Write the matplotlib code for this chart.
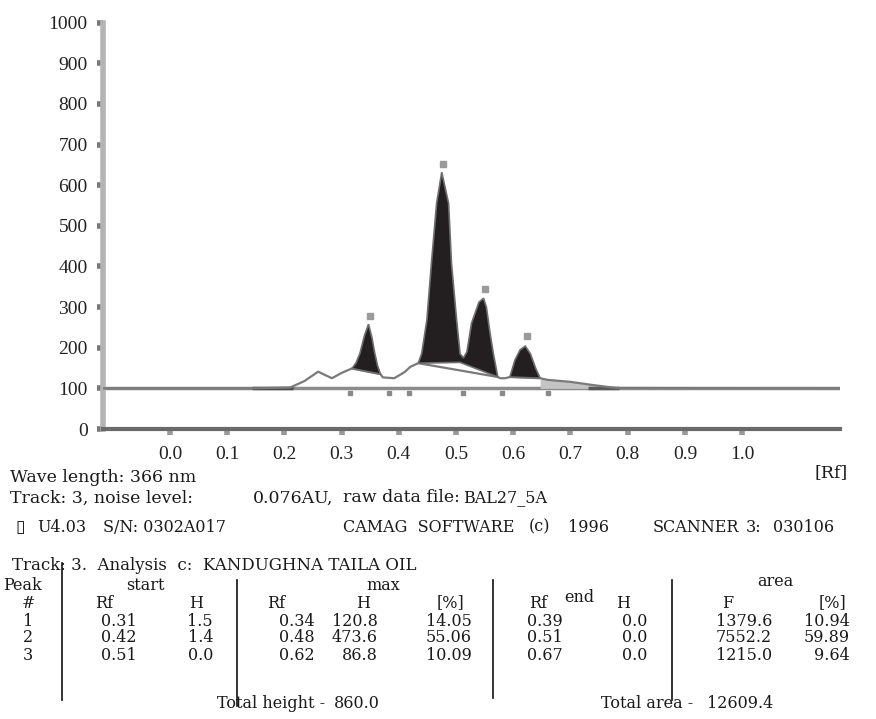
#!/usr/bin/env python
# -*- coding:utf-8 -*-
"""
TLC densitogram (CAMAG scanner printout), track 3, Kandughna taila oil.
"""

import numpy as np
from matplotlib import pyplot as plt

W, H = 876, 719

# --- scan trace (Rf, AU) ---
prof_rf = [-0.117, 0.143, 0.21, 0.235, 0.259, 0.283, 0.300, 0.318,
           0.368, 0.372, 0.392, 0.410, 0.420, 0.434,
           0.573, 0.577, 0.586, 0.594,
           0.647, 0.660, 0.700, 0.740, 0.780, 1.171]
prof_au = [100, 100, 102, 118, 141, 125, 138, 149,
           135, 127, 125, 140, 153, 162,
           128, 125, 125, 128,
           125, 121, 116, 108, 101, 100]

# filled peaks: outline then peak baseline back to the start
peak1_rf = [0.318, 0.325, 0.332, 0.340, 0.347, 0.353, 0.358, 0.363, 0.368]
peak1_au = [149, 162, 186, 230, 258, 225, 186, 155, 135]

peak23_rf = [0.434, 0.440, 0.449, 0.457, 0.466, 0.475, 0.487, 0.492, 0.501,
             0.507, 0.513, 0.519, 0.527, 0.540, 0.548, 0.553, 0.559, 0.565,
             0.573, 0.507]
peak23_au = [162, 186, 268, 408, 555, 632, 555, 408, 268,
             185, 175, 190, 260, 312, 322, 300, 240, 187,
             128, 164]

peak4_rf = [0.594, 0.603, 0.612, 0.621, 0.630, 0.639, 0.647]
peak4_au = [128, 170, 195, 204, 185, 150, 125]

# peak number blobs above apexes and start/end marks under the baseline
label_rf = [0.349, 0.477, 0.551, 0.624]
label_au = [278, 652, 345, 228]
mark_rf = [0.315, 0.382, 0.418, 0.512, 0.580, 0.660]

xticks = [0.0, 0.1, 0.2, 0.3, 0.4, 0.5, 0.6, 0.7, 0.8, 0.9, 1.0]
yticks = list(range(0, 1001, 100))

# --- result table ---
peak_ids = ["1", "2", "3"]
start_rf = ["0.31", "0.42", "0.51"]
start_h = ["1.5", "1.4", "0.0"]
max_rf = ["0.34", "0.48", "0.62"]
max_h = ["120.8", "473.6", "86.8"]
max_pct = ["14.05", "55.06", "10.09"]
end_rf = ["0.39", "0.51", "0.67"]
end_h = ["0.0", "0.0", "0.0"]
area_f = ["1379.6", "7552.2", "1215.0"]
area_pct = ["10.94", "59.89", "9.64"]
total_height = "860.0"
total_area = "12609.4"


def fx(px):
	return px / W


def fy(py):
	return 1 - py / H


fig = plt.figure(figsize=(W / 100, H / 100), dpi=100)
fig.patch.set_facecolor("white")

ax = fig.add_axes([fx(103), fy(429), fx(840) - fx(103), fy(22.7) - fy(429)])
ax.set_xlim(-0.117, 1.171)
ax.set_ylim(0, 1000)

for s in ["top", "right"]:
	ax.spines[s].set_visible(False)
ax.spines["left"].set_color("#b4b4b4")
ax.spines["left"].set_linewidth(4)
ax.spines["bottom"].set_color("#6a6a6a")
ax.spines["bottom"].set_linewidth(3)

tickfont = {"family": "Liberation Serif", "size": 14}
ax.set_yticks(yticks)
ax.set_yticklabels([str(v) for v in yticks], fontdict=tickfont, color="#222222")
ax.set_xticks(xticks)
ax.set_xticklabels(["%.1f" % v for v in xticks], fontdict=tickfont, color="#222222")
ax.tick_params(axis="y", direction="out", length=4, width=4, color="#777777", pad=7)
ax.tick_params(axis="x", direction="out", length=4, width=4, color="#999999", pad=8)

# baseline
ax.plot([-0.117, 1.171], [100, 100], color="#8c8c8c", lw=2.5, zorder=2,
	solid_capstyle="butt")
ax.plot([0.143, 0.215], [100, 100], color="#4a4a4a", lw=2.5, zorder=3,
	solid_capstyle="butt")
ax.plot([0.73, 0.785], [100, 100], color="#5a5a5a", lw=2.5, zorder=3,
	solid_capstyle="butt")

# light grey tail after the last peak
tail = [i for i, r in enumerate(prof_rf) if 0.647 <= r <= 0.78]
ax.fill_between([prof_rf[i] for i in tail], 100, [prof_au[i] for i in tail],
	color="#c4c4c4", lw=0, zorder=2)

# trace
ax.plot(prof_rf, prof_au, color="#7a7a7a", lw=1.6, zorder=4)

# peaks
for rf, au in [(peak1_rf, peak1_au), (peak23_rf, peak23_au), (peak4_rf, peak4_au)]:
	ax.fill(rf, au, facecolor="#231f20", edgecolor="#6e6e6e", lw=1.2, zorder=5)

ax.plot(label_rf, label_au, "s", ms=5, color="#9a9a9a", zorder=6)
ax.plot(mark_rf, [88] * len(mark_rf), "s", ms=3.5, color="#8a8a8a", zorder=6)

# --- header text under the plot ---
fam = ["DejaVu Serif", "DejaVu Sans"]


def put(px, py, s, ha="left", size=12.5):
	fig.text(fx(px), fy(py), s, ha=ha, va="center", family=fam, size=size,
		color="#1a1a1a")


put(10, 477, "Wave length: 366 nm")
put(814, 473, "[Rf]")
put(10, 498, "Track: 3, noise level:")
put(253, 498, "0.076AU,")
put(343, 498, "raw data file:")
put(463, 498, "BAL27_5A", size=11.5)
put(15, 527, "\u25af")
put(37, 527, "U4.03", size=11.5)
put(103, 527, "S/N: 0302A017", size=11.5)
put(343, 527, "CAMAG  SOFTWARE", size=11.5)
put(529, 527, "(c)", size=11.5)
put(568, 527, "1996", size=11.5)
put(653, 527, "SCANNER", size=11.5)
put(746, 527, "3:", size=11.5)
put(773, 527, "030106", size=11.5)

# --- table ---
ts = 11.5
put(12, 566, "Track: 3.  Analysis  c:  KANDUGHNA TAILA OIL", size=12)
put(3, 585, "Peak", size=ts)
put(145, 585, "start", ha="center", size=ts)
put(383, 585, "max", ha="center", size=ts)
put(579, 598, "end", ha="center", size=ts)
put(775, 582, "area", ha="center", size=ts)

head_y = 603
put(28, head_y, "#", ha="center", size=ts)
put(95, head_y, "Rf", size=ts)
put(196, head_y, "H", ha="center", size=ts)
put(276, head_y, "Rf", ha="center", size=ts)
put(363, head_y, "H", ha="center", size=ts)
put(450, head_y, "[%]", ha="center", size=ts)
put(538, head_y, "Rf", ha="center", size=ts)
put(623, head_y, "H", ha="center", size=ts)
put(728, head_y, "F", ha="center", size=ts)
put(833, head_y, "[%]", ha="center", size=ts)

row_y = [621, 638, 655]
cols = [(start_rf, 137), (start_h, 213), (max_rf, 315), (max_h, 378),
	(max_pct, 472), (end_rf, 563), (end_h, 647), (area_f, 772), (area_pct, 850)]
for i, y in enumerate(row_y):
	put(28, y, peak_ids[i], ha="center", size=ts)
	for vals, xr in cols:
		put(xr, y, vals[i], ha="right", size=ts)

put(325, 704, "Total height -", ha="right", size=ts)
put(380, 704, total_height, ha="right", size=ts)
put(693, 704, "Total area -", ha="right", size=ts)
put(773, 704, total_area, ha="right", size=ts)

for x, y0, y1 in [(62, 563, 700), (237, 580, 706), (493, 580, 698), (672, 580, 700)]:
	fig.add_artist(plt.Line2D([fx(x), fx(x)], [fy(y0), fy(y1)], color="#111111",
		lw=1.2, transform=fig.transFigure))

plt.savefig("out.png", dpi=100, facecolor="white")
